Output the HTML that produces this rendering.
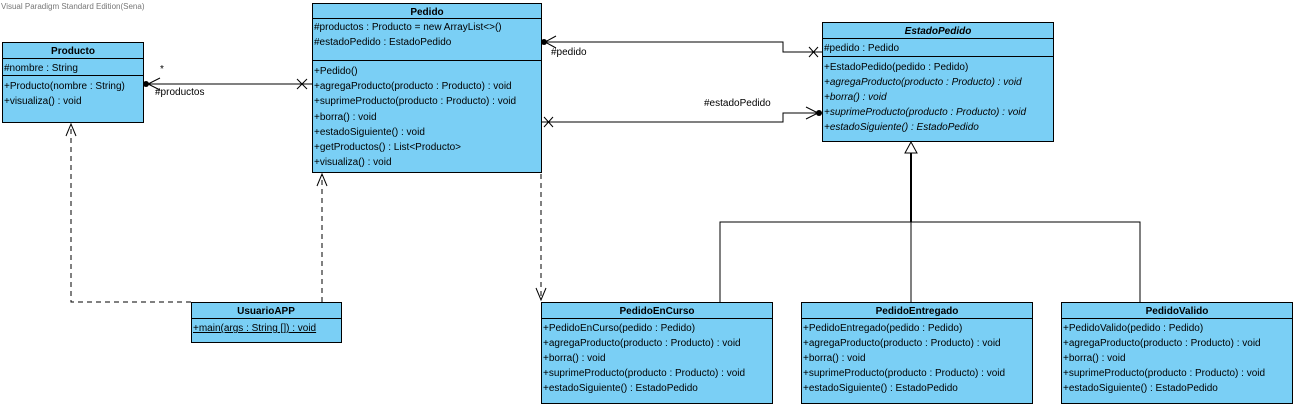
<!DOCTYPE html>
<html><head><meta charset="utf-8"><style>
html,body{margin:0;padding:0;background:#fff;}
svg{display:block;}
text{font-family:"Liberation Sans",Arial,sans-serif;font-size:10px;fill:#000;}
.h{font-weight:bold;}
.i{font-style:italic;}
</style></head><body>
<svg width="1296" height="406" viewBox="0 0 1296 406" xmlns="http://www.w3.org/2000/svg">
<text x="1" y="9" style="font-size:8px;fill:#777">Visual Paradigm Standard Edition(Sena)</text>

<g stroke="#000" fill="none" stroke-width="1">
  <line x1="146" y1="84" x2="312" y2="84"/>
  <polyline points="160,78 148,84 160,90"/>
  <path d="M297,79 L307,89 M307,79 L297,89"/>
  <polyline points="544,42 783,42 783,52 822,52"/>
  <polyline points="556,36 545,42 556,48"/>
  <path d="M809,47 L818,57 M818,47 L809,57"/>
  <polyline points="541,122 783,122 783,113 819,113"/>
  <polyline points="806,107 818,113 806,119"/>
  <path d="M544,117 L553,127 M553,117 L544,127"/>
  <polyline points="191,302 71,302 71,124" stroke-dasharray="5,4"/>
  <polyline points="66,136 71,124 76,136"/>
  <line x1="322" y1="302" x2="322" y2="174" stroke-dasharray="5,4"/>
  <polyline points="317,186 322,174 327,186"/>
  <line x1="541" y1="174" x2="541" y2="300" stroke-dasharray="5,4"/>
  <polyline points="536,288 541,300 546,288"/>
  <line x1="911" y1="152" x2="911" y2="222" stroke-width="2"/>
  <polyline points="720,302 720,222 1140,222 1140,302"/>
  <line x1="911" y1="222" x2="911" y2="302"/>
  <polygon points="911,142 905,153 917,153" fill="#fff"/>
</g>
<g fill="#000">
  <circle cx="146" cy="84" r="3"/>
  <circle cx="544" cy="42" r="3"/>
  <circle cx="819" cy="113" r="3"/>
</g>
<text x="160" y="72">*</text>
<text x="155" y="95">#productos</text>
<text x="551" y="55">#pedido</text>
<text x="704" y="106">#estadoPedido</text>

<g stroke="#000" stroke-width="1" fill="#7ACFF5">
  <rect x="2.5" y="42.5" width="141" height="80"/>
  <rect x="312.5" y="3.5" width="229" height="169"/>
  <rect x="822.5" y="22.5" width="231" height="119"/>
  <rect x="191.5" y="302.5" width="150" height="40"/>
  <rect x="541.5" y="302.5" width="231" height="101"/>
  <rect x="801.5" y="302.5" width="231" height="101"/>
  <rect x="1061.5" y="302.5" width="231" height="101"/>
</g>
<g stroke="#000" stroke-width="1">
  <line x1="2" y1="58.5" x2="144" y2="58.5"/><line x1="2" y1="75.5" x2="144" y2="75.5"/>
  <line x1="312" y1="18.5" x2="542" y2="18.5"/><line x1="312" y1="60.5" x2="542" y2="60.5"/>
  <line x1="822" y1="38.5" x2="1054" y2="38.5"/><line x1="822" y1="56.5" x2="1054" y2="56.5"/>
  <line x1="191" y1="318.5" x2="342" y2="318.5"/>
  <line x1="541" y1="318.5" x2="773" y2="318.5"/>
  <line x1="801" y1="318.5" x2="1033" y2="318.5"/>
  <line x1="1061" y1="318.5" x2="1293" y2="318.5"/>
</g>

<text class="h" x="73" y="54" text-anchor="middle">Producto</text>
<text x="4" y="71">#nombre : String</text>
<text x="4" y="89">+Producto(nombre : String)</text>
<text x="4" y="104">+visualiza() : void</text>

<text class="h" x="427" y="15" text-anchor="middle">Pedido</text>
<text x="314" y="30">#productos : Producto = new ArrayList&lt;&gt;()</text>
<text x="314" y="45">#estadoPedido : EstadoPedido</text>
<text x="314" y="74">+Pedido()</text>
<text x="314" y="89">+agregaProducto(producto : Producto) : void</text>
<text x="314" y="104">+suprimeProducto(producto : Producto) : void</text>
<text x="314" y="120">+borra() : void</text>
<text x="314" y="135">+estadoSiguiente() : void</text>
<text x="314" y="150">+getProductos() : List&lt;Producto&gt;</text>
<text x="314" y="165">+visualiza() : void</text>

<text class="h i" x="938" y="34" text-anchor="middle">EstadoPedido</text>
<text x="824" y="51">#pedido : Pedido</text>
<text x="824" y="70">+EstadoPedido(pedido : Pedido)</text>
<text class="i" x="824" y="85">+agregaProducto(producto : Producto) : void</text>
<text class="i" x="824" y="100">+borra() : void</text>
<text class="i" x="824" y="115">+suprimeProducto(producto : Producto) : void</text>
<text class="i" x="824" y="130">+estadoSiguiente() : EstadoPedido</text>

<text class="h" x="266" y="314" text-anchor="middle">UsuarioAPP</text>
<text x="193" y="331" text-decoration="underline">+main(args : String []) : void</text>

<text class="h" x="657" y="314" text-anchor="middle">PedidoEnCurso</text>
<text x="543" y="331">+PedidoEnCurso(pedido : Pedido)</text>
<text x="543" y="346">+agregaProducto(producto : Producto) : void</text>
<text x="543" y="361">+borra() : void</text>
<text x="543" y="376">+suprimeProducto(producto : Producto) : void</text>
<text x="543" y="391">+estadoSiguiente() : EstadoPedido</text>

<text class="h" x="917" y="314" text-anchor="middle">PedidoEntregado</text>
<text x="803" y="331">+PedidoEntregado(pedido : Pedido)</text>
<text x="803" y="346">+agregaProducto(producto : Producto) : void</text>
<text x="803" y="361">+borra() : void</text>
<text x="803" y="376">+suprimeProducto(producto : Producto) : void</text>
<text x="803" y="391">+estadoSiguiente() : EstadoPedido</text>

<text class="h" x="1177" y="314" text-anchor="middle">PedidoValido</text>
<text x="1063" y="331">+PedidoValido(pedido : Pedido)</text>
<text x="1063" y="346">+agregaProducto(producto : Producto) : void</text>
<text x="1063" y="361">+borra() : void</text>
<text x="1063" y="376">+suprimeProducto(producto : Producto) : void</text>
<text x="1063" y="391">+estadoSiguiente() : EstadoPedido</text>
</svg>
</body></html>
